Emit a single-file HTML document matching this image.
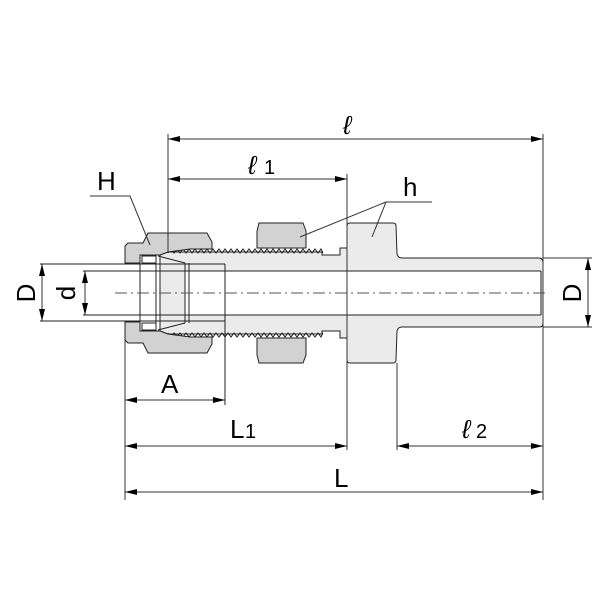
<!DOCTYPE html>
<html><head><meta charset="utf-8"><style>
html,body{margin:0;padding:0;background:#fff;}
svg{display:block;}
text{font-family:"Liberation Sans","DejaVu Sans",sans-serif;fill:#000;}
</style></head><body>
<svg width="600" height="600" viewBox="0 0 600 600" xmlns="http://www.w3.org/2000/svg">
<defs>
<marker id="a" viewBox="0 0 12 6" refX="12" refY="3" markerWidth="12" markerHeight="6" orient="auto-start-reverse" markerUnits="userSpaceOnUse"><path d="M0,0 L12,3 L0,6 z" fill="#000"/></marker>
</defs>
<g stroke="#222" stroke-width="1">
<!-- body (light gray) -->
<path d="M160,255 L168,252 L322,252 L322,255 L340,255 L340,248 L347,248 L347,226 Q347,223 350,223 L393,223 Q396,223 396,226 L397,254 Q398,258 402,258 L540,258 Q543,259 543,263 L543,323 Q543,327 540,327 L402,327 Q398,327 397,331 L396,360 Q396,363 393,363 L350,363 Q347,363 347,360 L347,338 L340,338 L340,331 L322,331 L322,334 L168,334 L160,331 Z" fill="#ebebeb"/>
<!-- bore -->
<rect x="185" y="271" width="356" height="44" fill="#fff" stroke="none"/>
<line x1="185" y1="271" x2="541" y2="271"/>
<line x1="185" y1="315" x2="541" y2="315"/>
<line x1="541" y1="271" x2="541" y2="315"/>
<!-- threads -->
<polyline fill="none" points="168,253 171,249 174,253 177,249 180,253 183,249 186,253 189,249 192,253 195,249 198,253 201,249 204,253 207,249 210,253 213,249 216,253 219,249 222,253 225,249 228,253 231,249 234,253 237,249 240,253 243,249 246,253 249,249 252,253 255,249 258,253 261,249 264,253 267,249 270,253 273,249 276,253 279,249 282,253 285,249 288,253 291,249 294,253 297,249 300,253 303,249 306,253 309,249 312,253 315,249 318,253 321,249 323,253"/>
<polyline fill="none" points="168,333 171,337 174,333 177,337 180,333 183,337 186,333 189,337 192,333 195,337 198,333 201,337 204,333 207,337 210,333 213,337 216,333 219,337 222,333 225,337 228,333 231,337 234,333 237,337 240,333 243,337 246,333 249,337 252,333 255,337 258,333 261,337 264,333 267,337 270,333 273,337 276,333 279,337 282,333 285,337 288,333 291,337 294,333 297,337 300,333 303,337 306,333 309,337 312,333 315,337 318,333 321,337 323,333"/>
<!-- lock nut -->
<path d="M259,223 L303,223 L306,231 L306,248 L257,248 L257,231 Z" fill="#d2d2d2"/>
<path d="M257,338 L306,338 L306,355 L303,363 L259,363 L257,355 Z" fill="#d2d2d2"/>
<!-- nut H -->
<path d="M128,243 L143,243 L148,233 L207,233 L212,242 L212,249 L190,249 L168,252 L160,255 L140,255 L140,263 L125,263 L125,246 Z" fill="#d2d2d2"/>
<path d="M125,322 L140,322 L140,331 L160,331 L168,334 L190,337 L212,337 L212,344 L207,353 L148,353 L143,343 L128,343 L125,340 Z" fill="#d2d2d2"/>
<!-- ferrule -->
<path d="M142,256 L156,256 L156,263 L142,263 Z M142,323 L156,323 L156,330 L142,330 Z" fill="#fff"/>
<line x1="158" y1="256" x2="185" y2="263"/>
<line x1="158" y1="330" x2="185" y2="323"/>
<line x1="140" y1="258" x2="140" y2="328"/>
<line x1="156" y1="258" x2="156" y2="328"/>
<line x1="160" y1="258" x2="160" y2="328"/>
<line x1="185" y1="263" x2="185" y2="323"/>
<line x1="189" y1="263" x2="189" y2="323"/>
<!-- tube lines -->
<line x1="40" y1="264" x2="225" y2="264"/>
<line x1="40" y1="321" x2="225" y2="321"/>
<line x1="83" y1="271" x2="185" y2="271"/>
<line x1="83" y1="315" x2="185" y2="315"/>
<line x1="225" y1="264" x2="225" y2="405"/>
</g>
<!-- centerline -->
<line x1="115" y1="293" x2="548" y2="293" stroke="#555" stroke-width="1" stroke-dasharray="12,4,2,4"/>
<g stroke="#333" stroke-width="1" fill="none">
<!-- extension lines -->
<line x1="168" y1="134" x2="168" y2="252"/>
<line x1="543" y1="134" x2="543" y2="500"/>
<line x1="347" y1="174" x2="347" y2="450"/>
<line x1="397" y1="363" x2="397" y2="450"/>
<line x1="125" y1="340" x2="125" y2="500"/>
<line x1="543" y1="258" x2="592" y2="258"/>
<line x1="543" y1="327" x2="592" y2="327"/>
<!-- dims -->
<line x1="168" y1="139" x2="543" y2="139" marker-start="url(#a)" marker-end="url(#a)"/>
<line x1="168" y1="179" x2="347" y2="179" marker-start="url(#a)" marker-end="url(#a)"/>
<line x1="125" y1="400" x2="225" y2="400" marker-start="url(#a)" marker-end="url(#a)"/>
<line x1="125" y1="446" x2="347" y2="446" marker-start="url(#a)" marker-end="url(#a)"/>
<line x1="397" y1="446" x2="543" y2="446" marker-start="url(#a)" marker-end="url(#a)"/>
<line x1="125" y1="492" x2="543" y2="492" marker-start="url(#a)" marker-end="url(#a)"/>
<line x1="42" y1="264" x2="42" y2="321" marker-start="url(#a)" marker-end="url(#a)"/>
<line x1="85" y1="271" x2="85" y2="315" marker-start="url(#a)" marker-end="url(#a)"/>
<line x1="588" y1="258" x2="588" y2="327" marker-start="url(#a)" marker-end="url(#a)"/>
<!-- leaders -->
<polyline points="90,196 130,196 150,245"/>
<polyline points="300,237 386,202 432,202"/>
<line x1="386" y1="202" x2="372" y2="237"/>
</g>
<g font-size="26">
<text x="343" y="134" font-style="italic" font-family="Liberation Serif">ℓ</text>
<text x="248" y="174" font-style="italic" font-family="Liberation Serif">ℓ</text><text x="264" y="174" font-size="20">1</text>
<text x="97" y="190">H</text>
<text x="403" y="196">h</text>
<text x="161" y="393">A</text>
<text x="230" y="438">L</text><text x="245" y="438" font-size="20">1</text>
<text x="462" y="438" font-style="italic" font-family="Liberation Serif">ℓ</text><text x="476" y="438" font-size="20">2</text>
<text x="334" y="487">L</text>
<text transform="translate(35,293) rotate(-90)" text-anchor="middle">D</text>
<text transform="translate(75,293) rotate(-90)" text-anchor="middle">d</text>
<text transform="translate(581,293) rotate(-90)" text-anchor="middle">D</text>
</g>
</svg>
</body></html>
